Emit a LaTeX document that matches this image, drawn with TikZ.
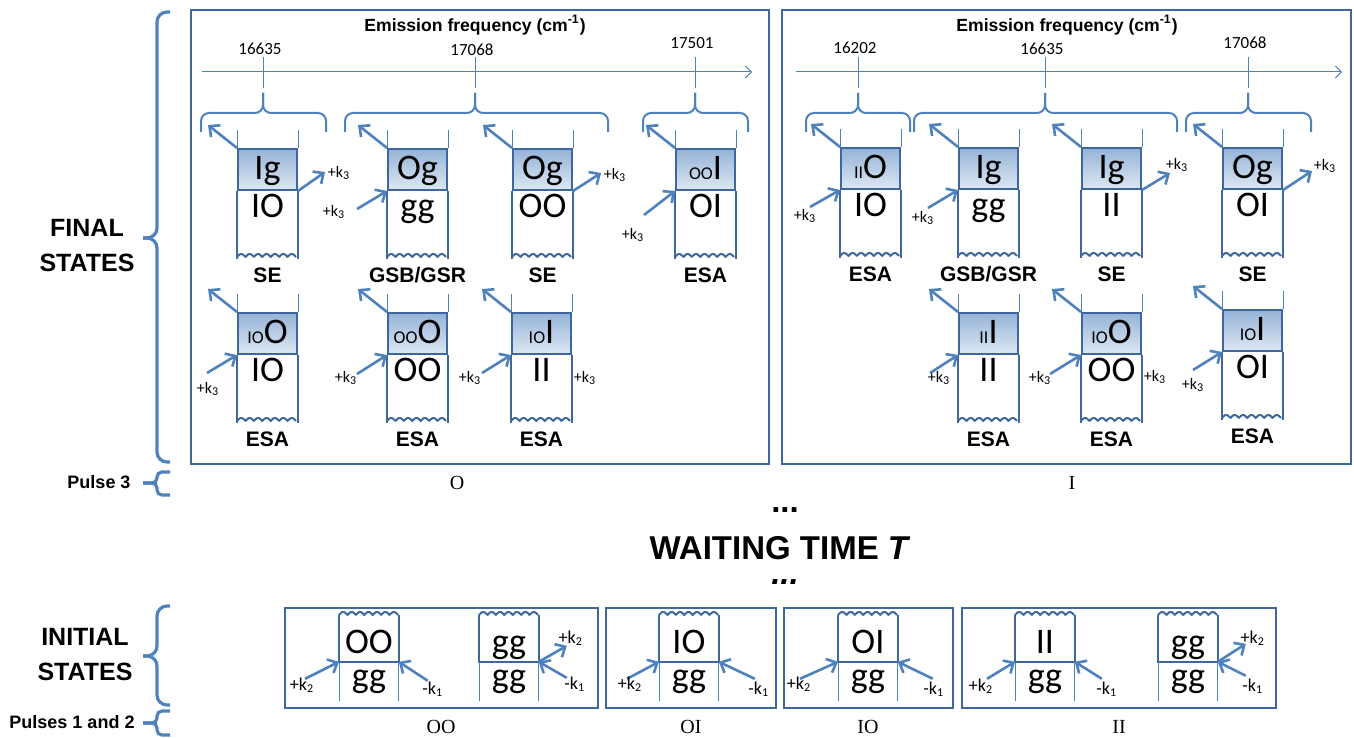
\documentclass[tikz,border=0pt]{standalone}
\usepackage{fontspec}
\setmainfont{Liberation Sans}
\newfontfamily\calib{Carlito}
\newfontfamily\tnr{Liberation Serif}
\usetikzlibrary{arrows.meta,calc}

\definecolor{dblue}{RGB}{62,103,158}
\definecolor{ablue}{RGB}{79,129,189}
\definecolor{shtop}{RGB}{149,179,215}
\definecolor{shbot}{RGB}{221,231,243}

\newcommand{\kt}[1]{+k\textsubscript{#1}}
\newcommand{\km}[1]{-k\textsubscript{#1}}
\newcommand{\pref}[1]{{\fontsize{9}{9}\selectfont #1}}
% scalloped edge: x, y
\newcommand{\wavyedge}[2]{\draw[dline] plot[domain=0:59,samples=90] ({#1+\x},{#2-3*abs(sin(\x*180/8.43))});}
% final state: name, x, y, upper, lower, process
\newcommand{\findiag}[6]{%
  \node[shd] (#1) at (#2,#3) {#4};
  \draw[tline] (#1.north west) -- ++(0,-18) (#1.north east) -- ++(0,-18);
  \draw[dline] (#1.south west) -- ++(0,68) (#1.south east) -- ++(0,68);
  \wavyedge{#2}{#3+109}
  \node[ket] (#1k) at ($(#1.south)+(0,26)$) {#5};
  \node[proc] (#1p) at ($(#1.south)+(0,91)$) {#6};}
% initial state: name, x, upper, lower
\newcommand{\inidiag}[4]{%
  \node[ini] (#1) at (#2,615) {#3};
  \wavyedge{#2}{615}
  \draw[dline] (#1.north west) -- (#1.south west) -- (#1.south east) -- (#1.north east);
  \draw[tline] (#1.south west) -- ++(0,39) (#1.south east) -- ++(0,39);
  \node[ket] (#1k) at ($(#1.south)+(0,26)$) {#4};}
\newcommand{\sigarrow}[1]{\coordinate (#1s) at ($(#1.north west)+(-29,-23)$);
  \draw[beam] (#1.north west) -- (#1s);}
% corner, tail offset, label offset, label, name
\newcommand{\kinarrow}[5]{\coordinate (#5) at ($(#1)+(#2)$);
  \draw[beam] (#5) -- (#1); \node[kk] (#5t) at ($(#1)+(#3)$) {#4};}
\newcommand{\koutarrow}[5]{\coordinate (#5) at ($(#1)+(#2)$);
  \draw[beam] (#1) -- (#5); \node[kk] (#5t) at ($(#1)+(#3)$) {#4};}
\newcommand{\fbrace}[3]{%
  \draw[hbr] (#1,132) |- (#3,113) -- (#3,93);
  \draw[hbr] (#2,132) |- (#3,113) -- (#3,93);}
\newcommand{\vbrace}[4]{%
  \draw[vbr, rounded corners=#4] (170,#1) -| (157,#3) -- (143,#3);
  \draw[vbr, rounded corners=#4] (170,#2) -| (157,#3) -- (143,#3);}

\begin{document}
\begin{tikzpicture}[x=0.5pt,y=-0.5pt,
    dline/.style={dblue, line width=1pt},
    tline/.style={ablue, line width=0.5pt},
    beam/.style={ablue, line width=1.3pt, -{Straight Barb[length=4pt,width=7.5pt]}},
    hbr/.style={ablue, line width=1pt, rounded corners=4pt},
    vbr/.style={ablue, line width=1.6pt},
    frame/.style={dblue, line width=1pt},
    axis/.style={ablue, line width=0.5pt, -{Straight Barb[length=3pt,width=6pt]}},
    shd/.style={draw=dblue, line width=1pt, top color=shtop, bottom color=shbot,
                anchor=north west, inner sep=0pt, minimum width=29.5pt,
                text height=15pt, text depth=5.5pt, font=\calib\fontsize{18}{18}\selectfont},
    ini/.style={anchor=north west, inner sep=0pt, minimum width=29.5pt,
                text height=19pt, text depth=4pt, font=\calib\fontsize{18}{18}\selectfont},
    ket/.style={anchor=base, inner sep=0pt, font=\calib\fontsize{18}{18}\selectfont},
    proc/.style={anchor=base, inner sep=0pt, font=\bfseries\fontsize{10.5}{10.5}\selectfont},
    kk/.style={inner sep=0pt, font=\calib\fontsize{8}{8}\selectfont},
    tick/.style={inner sep=0pt, font=\calib\fontsize{8.5}{8.5}\selectfont},
    ttl/.style={inner sep=0pt, font=\bfseries\fontsize{8.8}{8.8}\selectfont},
    side/.style={font=\bfseries\fontsize{12.5}{17.5}\selectfont, align=center},
    pls/.style={font=\bfseries\fontsize{9}{9}\selectfont},
    pol/.style={font=\tnr\fontsize{10}{10}\selectfont},
    big/.style={inner sep=0pt, font=\bfseries\fontsize{16.5}{16.5}\selectfont}
]
    \path[use as bounding box] (0,0) rectangle (1354,738);

    % side labels and braces
    \node[side] (fin) at (87,246) {FINAL\\STATES};
    \node[pls] (p3) at (99,482) {Pulse 3};
    \node[side] (inis) at (85,655) {INITIAL\\STATES};
    \node[pls] (p12) at (72,722) {Pulses 1 and 2};
    \vbrace{12}{462}{238}{5pt}
    \vbrace{472}{495}{483}{2.5pt}
    \vbrace{606}{705}{656}{5pt}
    \vbrace{711}{735}{723}{2.5pt}

    % panel O
    \draw[frame] (191,10) rectangle (769,464);
    \node[ttl] (efO) at (475,25) {Emission frequency (cm\textsuperscript{-1})};
    \coordinate (axO1) at (202,72);
    \coordinate (axO2) at (752,72);
    \draw[axis] (axO1) -- (axO2);
    \foreach \t/\v/\h in {263/16635/49, 475/17068/50, 695/17501/43} {
        \draw[tline] (\t,57) -- (\t,88);
        \node[tick] (tO\v) at (\t-3,\h) {\v};
    }
    \fbrace{201}{326}{263}
    \fbrace{345}{608}{475}
    \fbrace{643}{748}{695}

    \findiag{A}{237}{148}{Ig}{IO}{SE}
    \findiag{B}{387}{148}{Og}{gg}{GSB/GSR}
    \findiag{C}{512}{148}{Og}{OO}{SE}
    \findiag{D}{675}{148}{\pref{OO}I}{OI}{ESA}
    \findiag{E}{237}{312}{\pref{IO}O}{IO}{ESA}
    \findiag{F}{387}{312}{\pref{OO}O}{OO}{ESA}
    \findiag{G}{511}{312}{\pref{IO}I}{II}{ESA}
    \foreach \d in {A,B,C,D,E,F,G} {\sigarrow{\d}}
    \koutarrow{A.south east}{27,-19}{41,-18}{\kt3}{kA}
    \kinarrow{B.south west}{-30,18}{-53,21}{\kt3}{kB}
    \koutarrow{C.south east}{28,-18}{42,-16}{\kt3}{kC}
    \kinarrow{D.south west}{-31,24}{-42,44}{\kt3}{kD}
    \kinarrow{E.south west}{-30,18}{-29,34}{\kt3}{kE}
    \kinarrow{F.south west}{-30,19}{-41,23}{\kt3}{kF}
    \kinarrow{G.south west}{-29,18}{-41,23}{\kt3}{kG}
    \node[kk] (kG2) at ($(G.south east)+(13,23)$) {\kt3};
    \node[pol] (lO) at (457,483) {O};

    % panel I
    \draw[frame] (782,10) rectangle (1351,464);
    \node[ttl] (efI) at (1067,25) {Emission frequency (cm\textsuperscript{-1})};
    \coordinate (axI1) at (796,72);
    \coordinate (axI2) at (1342,72);
    \draw[axis] (axI1) -- (axI2);
    \foreach \t/\v/\h in {858/16202/48, 1045/16635/49, 1248/17068/43} {
        \draw[tline] (\t,57) -- (\t,88);
        \node[tick] (tI\v) at (\t-3,\h) {\v};
    }
    \fbrace{806}{910}{858}
    \fbrace{914}{1177}{1045}
    \fbrace{1186}{1311}{1248}

    \findiag{H}{840}{147}{\pref{II}O}{IO}{ESA}
    \findiag{I}{958}{147}{Ig}{gg}{GSB/GSR}
    \findiag{J}{1081}{147}{Ig}{II}{SE}
    \findiag{K}{1222}{147}{Og}{OI}{SE}
    \findiag{L}{958}{312}{\pref{II}I}{II}{ESA}
    \findiag{M}{1081}{312}{\pref{IO}O}{OO}{ESA}
    \findiag{N}{1222}{309}{\pref{IO}I}{OI}{ESA}
    \foreach \d in {H,I,J,K,L,M,N} {\sigarrow{\d}}
    \kinarrow{H.south west}{-30,17}{-35,26}{\kt3}{kH}
    \kinarrow{I.south west}{-30,18}{-35,28}{\kt3}{kI}
    \koutarrow{J.south east}{28,-17}{35,-25}{\kt3}{kJ}
    \koutarrow{K.south east}{29,-19}{42,-24}{\kt3}{kK}
    \kinarrow{L.south west}{-28,18}{-19,23}{\kt3}{kL}
    \kinarrow{M.south west}{-31,19}{-41,23}{\kt3}{kM}
    \node[kk] (kM2) at ($(M.south east)+(13,22)$) {\kt3};
    \kinarrow{N.south west}{-29,18}{-29,33}{\kt3}{kN}
    \node[pol] (lI) at (1072,483) {I};

    % waiting time
    \node[big] (dots1) at (785,510) {...};
    \node[big] (wait) at (780,548) {WAITING TIME \textit{T}};
    \node[big] (dots2) at (785,582) {\textit{...}};

    % initial states
    \draw[frame] (285,608) rectangle (598,708);
    \draw[frame] (606,608) rectangle (776,708);
    \draw[frame] (784,608) rectangle (953,708);
    \draw[frame] (962,608) rectangle (1276,708);
    \inidiag{OOa}{339}{OO}{gg}
    \inidiag{OOb}{479}{gg}{gg}
    \inidiag{OIa}{659}{IO}{gg}
    \inidiag{IOa}{838}{OI}{gg}
    \inidiag{IIa}{1015}{II}{gg}
    \inidiag{IIb}{1158}{gg}{gg}
    \begin{scope}[kk/.style={inner sep=0pt, font=\calib\fontsize{9}{9}\selectfont}]
        \kinarrow{OOa.south west}{-34,17}{-37,23}{\kt2}{pOOa}
        \kinarrow{OOa.south east}{29,19}{34,27}{\km1}{mOOa}
        \koutarrow{OOb.south east}{28,-16}{32,-24}{\kt2}{pOOb}
        \kinarrow{OOb.south east}{28,16}{36,22}{\km1}{mOOb}
        \kinarrow{OIa.south west}{-32,17}{-29,22}{\kt2}{pOIa}
        \kinarrow{OIa.south east}{36,17}{40,27}{\km1}{mOIa}
        \kinarrow{IOa.south west}{-38,17}{-39,22}{\kt2}{pIOa}
        \kinarrow{IOa.south east}{35,17}{36,27}{\km1}{mIOa}
        \kinarrow{IIa.south west}{-28,17}{-34,24}{\kt2}{pIIa}
        \kinarrow{IIa.south east}{27,17}{32,27}{\km1}{mIIa}
        \koutarrow{IIb.south east}{28,-18}{35,-24}{\kt2}{pIIb}
        \kinarrow{IIb.south east}{28,14}{35,24}{\km1}{mIIb}
    \end{scope}
    \node[pol] (lOO) at (441,727) {OO};
    \node[pol] (lOI) at (691,727) {OI};
    \node[pol] (lIO) at (868,727) {IO};
    \node[pol] (lII) at (1119,727) {II};
\end{tikzpicture}
\end{document}
